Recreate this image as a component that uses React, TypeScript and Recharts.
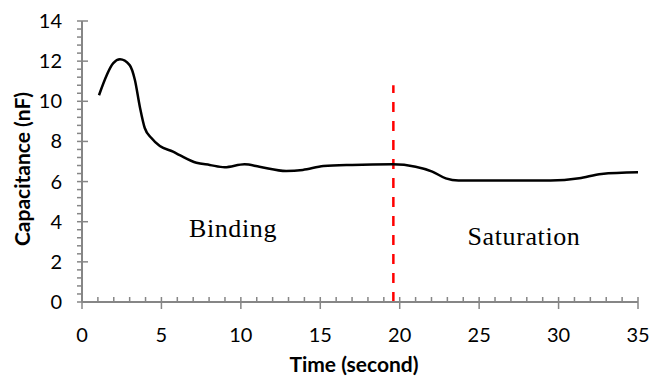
import React from 'react';
import { LineChart, Line, XAxis, YAxis, ReferenceLine } from 'recharts';

// time (s) and capacitance (nF)
const times = [1.07, 1.97, 2.39, 3.0, 3.33, 3.64, 3.95, 4.37, 4.9, 5.73, 6.15, 7.2, 8.04, 8.98, 10.23, 11.17, 12.85, 13.9, 15.2, 17.0, 19.55, 21.0, 22.05, 22.9, 23.7, 26.4, 29.5, 31.3, 32.7, 35.0];
const capacitance = [10.3, 11.9, 12.09, 11.8, 11.06, 9.73, 8.67, 8.17, 7.77, 7.49, 7.32, 6.94, 6.83, 6.71, 6.86, 6.74, 6.53, 6.58, 6.77, 6.83, 6.86, 6.74, 6.5, 6.16, 6.05, 6.05, 6.05, 6.16, 6.38, 6.46];

const xMajorTicks = [0, 5, 10, 15, 20, 25, 30, 35];
const yMajorTicks = [0, 2, 4, 6, 8, 10, 12, 14];

// boundary between binding and saturation phases
const boundaryTime = 19.6;
const boundaryTop = 10.8;

const data = times.map((t, i) => ({ t, v: capacitance[i] }));

// minor ticks: 5 per major step on each axis
const subdivide = (majors: number[]) => {
  const out: number[] = [];
  for (let i = 0; i < majors.length - 1; i++) {
    const step = (majors[i + 1] - majors[i]) / 5;
    for (let k = 0; k < 5; k++) out.push(Math.round((majors[i] + k * step) * 100) / 100);
  }
  out.push(majors[majors.length - 1]);
  return out;
};
const xAllTicks = subdivide(xMajorTicks);
const yAllTicks = subdivide(yMajorTicks);

const AXIS = '#868686';
const FONT = 'Lato, "Open Sans", sans-serif';

const XTick = (props: any) => {
  const { x, y, payload } = props;
  const major = xMajorTicks.includes(payload.value);
  return (
    <g>
      <line x1={x} x2={x} y1={y - 5} y2={major ? y + 7 : y} stroke={AXIS} strokeWidth={1.5} />
      {major && (
        <text x={x} y={y + 40} textAnchor="middle" fontSize={20} fontFamily={FONT} fill="#000">
          {payload.value}
        </text>
      )}
    </g>
  );
};

const YTick = (props: any) => {
  const { x, y, payload } = props;
  const major = yMajorTicks.includes(payload.value);
  return (
    <g>
      <line x1={x - 5} x2={major ? x + 6 : x} y1={y} y2={y} stroke={AXIS} strokeWidth={1.5} />
      {major && (
        <text x={x - 20} y={y + 7} textAnchor="end" fontSize={20} fontFamily={FONT} fill="#000">
          {payload.value}
        </text>
      )}
    </g>
  );
};

export default function App() {
  return (
    <div style={{ position: 'absolute', left: 0, top: 0, width: 653, height: 376, background: '#fff' }}>
      <LineChart width={653} height={376} data={data} margin={{ top: 21, right: 15, left: 0, bottom: 0 }}>
        <XAxis
          dataKey="t"
          type="number"
          domain={[0, 35]}
          ticks={xAllTicks}
          interval={0}
          height={74}
          tickSize={0}
          tickMargin={0}
          tickLine={false}
          axisLine={{ stroke: AXIS, strokeWidth: 2 }}
          tick={<XTick />}
        />
        <YAxis
          type="number"
          domain={[0, 14]}
          ticks={yAllTicks}
          interval={0}
          width={82}
          tickSize={0}
          tickMargin={0}
          tickLine={false}
          axisLine={{ stroke: AXIS, strokeWidth: 2 }}
          tick={<YTick />}
        />
        <ReferenceLine
          segment={[{ x: boundaryTime, y: 0 }, { x: boundaryTime, y: boundaryTop }]}
          stroke="#ff0000"
          strokeWidth={2.5}
          strokeDasharray="10 9"
        />
        <Line
          type="monotone"
          dataKey="v"
          stroke="#000"
          strokeWidth={2.5}
          dot={false}
          isAnimationActive={false}
        />
      </LineChart>
      <svg width={653} height={376} style={{ position: 'absolute', left: 0, top: 0, pointerEvents: 'none' }}>
        <text x={233} y={237} textAnchor="middle" fontSize={26} letterSpacing={0.6} fontFamily='"Liberation Serif", serif' fill="#000">
          Binding
        </text>
        <text x={524} y={245} textAnchor="middle" fontSize={26} letterSpacing={0.6} fontFamily='"Liberation Serif", serif' fill="#000">
          Saturation
        </text>
        <text x={354} y={372} textAnchor="middle" fontSize={21} fontWeight="bold" fontFamily={FONT} fill="#000">
          Time (second)
        </text>
        <text
          x={0}
          y={0}
          transform="translate(30 169) rotate(-90)"
          textAnchor="middle"
          fontSize={21}
          fontWeight="bold"
          fontFamily={FONT}
          fill="#000"
        >
          Capacitance (nF)
        </text>
      </svg>
    </div>
  );
}
